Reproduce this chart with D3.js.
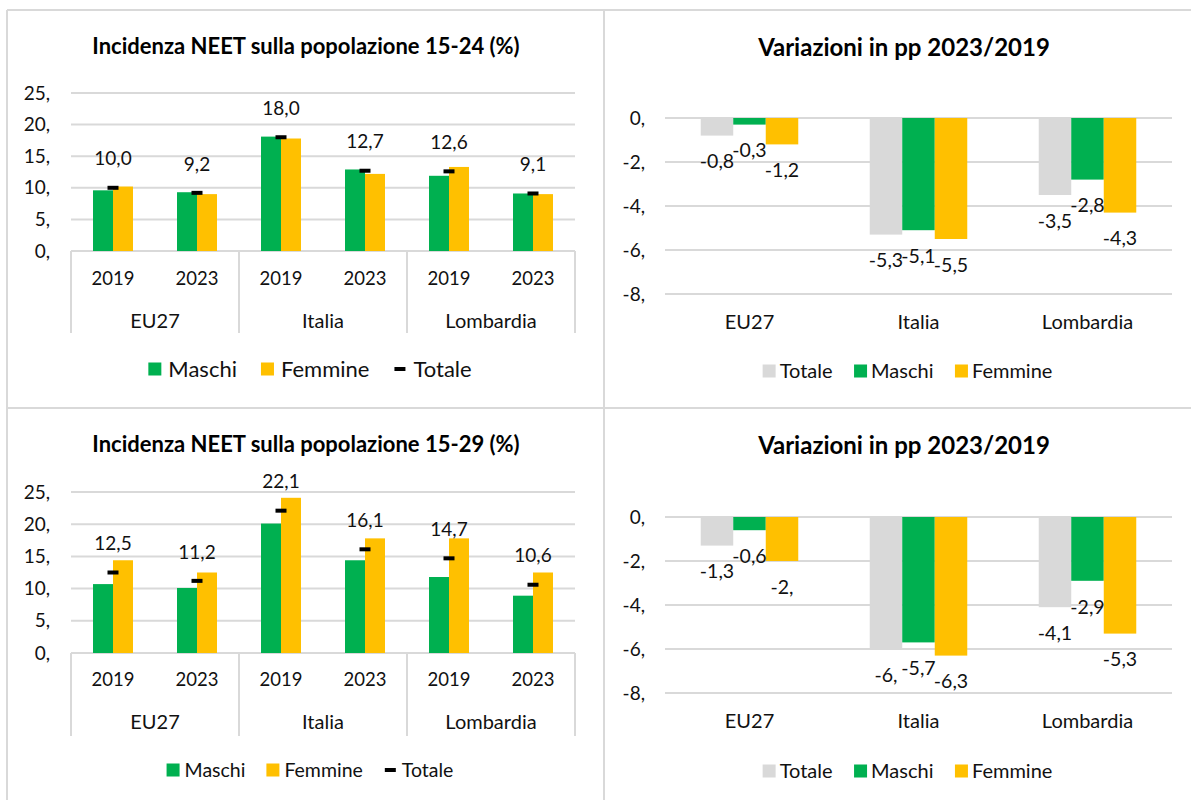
<!DOCTYPE html>
<html>
<head>
<meta charset="utf-8">
<script src="https://cdn.jsdelivr.net/npm/d3@7"></script>
<style>
body { margin: 0; background: #fff; }
text { font-family: Lato, "Open Sans", sans-serif; fill: #111; }
</style>
</head>
<body>
<script>
var w = 1191;
var h = 800;

// categorie
var regions = ["EU27", "Italia", "Lombardia"];
var years = ["2019", "2023"];
var groupKeys = ["EU27 2019", "EU27 2023", "Italia 2019", "Italia 2023", "Lombardia 2019", "Lombardia 2023"];

// incidenza NEET 15-24 (%)
var maschi1524 = [9.6, 9.3, 18.1, 12.9, 11.9, 9.1];
var femmine1524 = [10.2, 9.0, 17.8, 12.2, 13.3, 9.0];
var totale1524 = [10.0, 9.2, 18.0, 12.7, 12.6, 9.1];

// incidenza NEET 15-29 (%)
var maschi1529 = [10.7, 10.1, 20.1, 14.4, 11.8, 8.9];
var femmine1529 = [14.4, 12.5, 24.1, 17.8, 17.8, 12.5];
var totale1529 = [12.5, 11.2, 22.1, 16.1, 14.7, 10.6];

// variazioni in pp 2023/2019
var varTotale1524 = [-0.8, -5.3, -3.5];
var varMaschi1524 = [-0.3, -5.1, -2.8];
var varFemmine1524 = [-1.2, -5.5, -4.3];
var varTotale1529 = [-1.3, -6.0, -4.1];
var varMaschi1529 = [-0.6, -5.7, -2.9];
var varFemmine1529 = [-2.0, -6.3, -5.3];

var levelTicks = [0, 5, 10, 15, 20, 25];
var changeTicks = [0, -2, -4, -6, -8];

var green = "#00B050", yellow = "#FFC000", grey = "#D9D9D9", gridCol = "#D9D9D9";

function fmtShort(v) {
    // stile Excel "#,#": gli interi finiscono con la virgola
    if (Number.isInteger(v)) return v + ",";
    return String(v).replace(".", ",");
}
function fmtOne(v) {
    return d3.format(".1f")(v).replace(".", ",");
}

var svg = d3.select("body")
    .append("svg")
    .attr("width", w)
    .attr("height", h);

// cornici dei pannelli
var frame = [
    [7, 10, w, 10], [7, 10, 7, h], [604, 10, 604, h], [7, 408, w, 408]
];
svg.selectAll("line.frame")
    .data(frame)
    .enter()
    .append("line")
    .attr("class", "frame")
    .attr("x1", function(d){ return d[0]; })
    .attr("y1", function(d){ return d[1]; })
    .attr("x2", function(d){ return d[2]; })
    .attr("y2", function(d){ return d[3]; })
    .attr("stroke", gridCol)
    .attr("stroke-width", 2);

function legend(g, items, cx, y, fontSize, textOff, gap) {
    var lg = g.append("g");
    var x = 0;
    items.forEach(function(it){
        var item = lg.append("g").attr("transform", "translate(" + x + ",0)");
        if (it.dash) {
            item.append("rect").attr("x", 1).attr("y", y - 2).attr("width", 11).attr("height", 4).attr("fill", "#000");
        } else {
            item.append("rect").attr("x", 0).attr("y", y - 6.5).attr("width", 13).attr("height", 13).attr("fill", it.color);
        }
        var t = item.append("text")
            .attr("x", textOff)
            .attr("y", y)
            .attr("dy", "0.35em")
            .style("font-size", fontSize + "px")
            .text(it.label);
        x += textOff + t.node().getComputedTextLength() + gap;
    });
    var total = x - gap;
    lg.attr("transform", "translate(" + (cx - total/2) + ",0)");
}

function levelPanel(o) {
    var g = svg.append("g");
    g.append("text")
        .attr("x", 306).attr("y", o.titleY).attr("dy", "0.35em")
        .attr("text-anchor", "middle")
        .style("font-size", "22px").style("font-weight", "bold").style("fill", "#000")
        .text(o.title);

    var x = d3.scaleBand().domain(groupKeys).range([71, 575]).paddingInner(0.524).paddingOuter(0.262);
    var xs = d3.scaleBand().domain(["M", "F"]).range([0, x.bandwidth()]);
    var y = d3.scaleLinear().domain([0, 25]).range([o.y0, o.y25]);

    g.selectAll("line.grid").data(levelTicks).enter().append("line")
        .attr("x1", 71).attr("x2", 575)
        .attr("y1", function(d){ return y(d); }).attr("y2", function(d){ return y(d); })
        .attr("stroke", gridCol).attr("stroke-width", 2);

    g.selectAll("text.tick").data(levelTicks).enter().append("text")
        .attr("x", 50).attr("y", function(d){ return y(d); }).attr("dy", "0.35em")
        .attr("text-anchor", "end").style("font-size", "19px")
        .text(fmtShort);

    var rows = groupKeys.map(function(k, i){
        return { key: k, m: o.maschi[i], f: o.femmine[i], t: o.totale[i] };
    });

    g.selectAll("rect.m").data(rows).enter().append("rect")
        .attr("x", function(d){ return x(d.key) + xs("M"); })
        .attr("width", xs.bandwidth())
        .attr("y", function(d){ return y(d.m); })
        .attr("height", function(d){ return y(0) - y(d.m); })
        .attr("fill", green);
    g.selectAll("rect.f").data(rows).enter().append("rect")
        .attr("x", function(d){ return x(d.key) + xs("F"); })
        .attr("width", xs.bandwidth())
        .attr("y", function(d){ return y(d.f); })
        .attr("height", function(d){ return y(0) - y(d.f); })
        .attr("fill", yellow);
    g.selectAll("rect.t").data(rows).enter().append("rect")
        .attr("x", function(d){ return x(d.key) + x.bandwidth()/2 - 5.5; })
        .attr("width", 11)
        .attr("y", function(d){ return y(d.t) - 2; })
        .attr("height", 4)
        .attr("fill", "#000");
    g.selectAll("text.lab").data(rows).enter().append("text")
        .attr("x", function(d){ return x(d.key) + x.bandwidth()/2; })
        .attr("y", function(d){ return y(d.t) - 29; })
        .attr("dy", "0.35em").attr("text-anchor", "middle")
        .style("font-size", "19px")
        .text(function(d){ return fmtOne(d.t); });

    // asse x a due livelli
    g.selectAll("text.year").data(groupKeys).enter().append("text")
        .attr("x", function(d){ return x(d) + x.bandwidth()/2; })
        .attr("y", o.yearY).attr("dy", "0.35em").attr("text-anchor", "middle")
        .style("font-size", "18.5px")
        .text(function(d){ return d.split(" ")[1]; });

    var step = x.step();
    var seps = [0, 2, 4, 6].map(function(i){ return 71 + i*step; });
    g.selectAll("line.sep").data(seps).enter().append("line")
        .attr("x1", function(d){ return d; }).attr("x2", function(d){ return d; })
        .attr("y1", y(0)).attr("y2", o.sepBottom)
        .attr("stroke", gridCol).attr("stroke-width", 2);
    g.selectAll("text.region").data(regions).enter().append("text")
        .attr("x", function(d, i){ return 71 + (2*i + 1)*step; })
        .attr("y", o.regionY).attr("dy", "0.35em").attr("text-anchor", "middle")
        .style("font-size", "20px")
        .text(function(d){ return d; });

    legend(g, [
        { label: "Maschi", color: green },
        { label: "Femmine", color: yellow },
        { label: "Totale", dash: true }
    ], o.legendCx, o.legendY, o.legendFont, o.legendOff, o.legendGap);
}

function changePanel(o) {
    var g = svg.append("g");
    g.append("text")
        .attr("x", 904).attr("y", o.titleY).attr("dy", "0.35em")
        .attr("text-anchor", "middle")
        .style("font-size", "24px").style("font-weight", "bold").style("fill", "#000")
        .text(o.title);

    var x = d3.scaleBand().domain(regions).range([665, 1172]).paddingInner(0.423).paddingOuter(0.2115);
    var series = ["Totale", "Maschi", "Femmine"];
    var colors = [grey, green, yellow];
    var xs = d3.scaleBand().domain(series).range([0, x.bandwidth()]);
    var y = d3.scaleLinear().domain([0, -8]).range([o.y0, o.y8]);

    g.selectAll("line.grid").data(changeTicks).enter().append("line")
        .attr("x1", 665).attr("x2", 1172)
        .attr("y1", function(d){ return y(d); }).attr("y2", function(d){ return y(d); })
        .attr("stroke", gridCol).attr("stroke-width", 2);
    g.selectAll("text.tick").data(changeTicks).enter().append("text")
        .attr("x", 645).attr("y", function(d){ return y(d); }).attr("dy", "0.35em")
        .attr("text-anchor", "end").style("font-size", "19px")
        .text(fmtShort);

    var vals = [o.totale, o.maschi, o.femmine];
    var cells = [];
    regions.forEach(function(r, i){
        series.forEach(function(s, j){
            cells.push({ region: r, serie: s, v: vals[j][i], color: colors[j] });
        });
    });

    g.selectAll("rect.bar").data(cells).enter().append("rect")
        .attr("x", function(d){ return x(d.region) + xs(d.serie); })
        .attr("width", xs.bandwidth())
        .attr("y", y(0))
        .attr("height", function(d){ return y(d.v) - y(0); })
        .attr("fill", function(d){ return d.color; });
    g.selectAll("text.lab").data(cells).enter().append("text")
        .attr("x", function(d){ return x(d.region) + xs(d.serie) + xs.bandwidth()/2; })
        .attr("y", function(d){ return y(d.v) + 26; })
        .attr("dy", "0.35em").attr("text-anchor", "middle")
        .style("font-size", "19.5px")
        .text(function(d){ return fmtShort(d.v); });

    g.selectAll("text.cat").data(regions).enter().append("text")
        .attr("x", function(d){ return x(d) + x.bandwidth()/2; })
        .attr("y", o.catY).attr("dy", "0.35em").attr("text-anchor", "middle")
        .style("font-size", "20px")
        .text(function(d){ return d; });

    legend(g, series.map(function(s, j){ return { label: s, color: colors[j] }; }),
        907.5, o.legendY, 20, 17, 21.5);
}

levelPanel({
    title: "Incidenza NEET sulla popolazione 15-24 (%)", titleY: 46,
    maschi: maschi1524, femmine: femmine1524, totale: totale1524,
    y0: 251, y25: 93, yearY: 279, regionY: 321, sepBottom: 333,
    legendCx: 310, legendY: 369, legendFont: 22, legendOff: 20, legendGap: 24
});
levelPanel({
    title: "Incidenza NEET sulla popolazione 15-29 (%)", titleY: 444,
    maschi: maschi1529, femmine: femmine1529, totale: totale1529,
    y0: 653, y25: 492, yearY: 680, regionY: 722, sepBottom: 736,
    legendCx: 310, legendY: 770, legendFont: 19.5, legendOff: 18, legendGap: 21
});
changePanel({
    title: "Variazioni in pp 2023/2019", titleY: 48,
    totale: varTotale1524, maschi: varMaschi1524, femmine: varFemmine1524,
    y0: 118, y8: 294, catY: 322, legendY: 371
});
changePanel({
    title: "Variazioni in pp 2023/2019", titleY: 446,
    totale: varTotale1529, maschi: varMaschi1529, femmine: varFemmine1529,
    y0: 517, y8: 693, catY: 721, legendY: 771
});
</script>
</body>
</html>
